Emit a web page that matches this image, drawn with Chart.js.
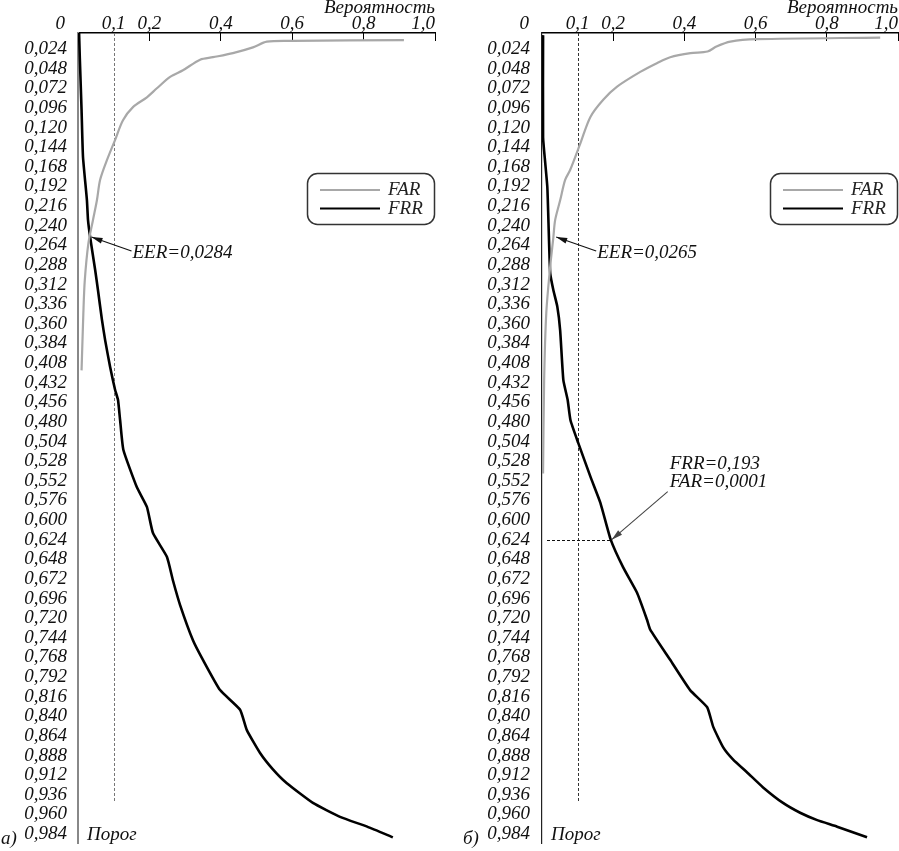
<!DOCTYPE html>
<html>
<head>
<meta charset="utf-8">
<script src="https://cdn.jsdelivr.net/npm/chart.js@4.4.1/dist/chart.umd.min.js"></script>
<style>
  html, body { margin: 0; padding: 0; background: #fff; }
  #wrap { position: relative; width: 899px; height: 851px; overflow: hidden; }
  canvas { position: absolute; top: 0; }
  #chartA { left: 0; }
  #chartB { left: 450px; }
</style>
</head>
<body>
<div id="wrap">
  <canvas id="chartA" width="450" height="851"></canvas>
  <canvas id="chartB" width="449" height="851"></canvas>
</div>
<script>
// ось Y: порог, ось X: вероятность
const thresholdTicks = [0.024, 0.048, 0.072, 0.096, 0.120, 0.144, 0.168, 0.192, 0.216, 0.240,
  0.264, 0.288, 0.312, 0.336, 0.360, 0.384, 0.408, 0.432, 0.456, 0.480, 0.504, 0.528, 0.552,
  0.576, 0.600, 0.624, 0.648, 0.672, 0.696, 0.720, 0.744, 0.768, 0.792, 0.816, 0.840, 0.864,
  0.888, 0.912, 0.936, 0.960, 0.984]
const probTicks = [0, 0.1, 0.2, 0.4, 0.6, 0.8, 1.0]
const seriesNames = ['FAR', 'FRR']

// а)
const farA_thr = [0.013, 0.014, 0.015, 0.022, 0.029, 0.034, 0.037, 0.050, 0.058, 0.072, 0.083,
  0.095, 0.111, 0.135, 0.160, 0.184, 0.209, 0.233, 0.262, 0.307, 0.347, 0.417]
const farA_val = [0.913, 0.602, 0.529, 0.490, 0.434, 0.378, 0.342, 0.294, 0.258, 0.221, 0.193,
  0.154, 0.126, 0.104, 0.081, 0.062, 0.053, 0.042, 0.029, 0.019, 0.015, 0.010]
const frrA_thr = [0.004, 0.034, 0.099, 0.156, 0.209, 0.233, 0.254, 0.294, 0.319, 0.355, 0.380,
  0.413, 0.441, 0.453, 0.478, 0.514, 0.560, 0.584, 0.616, 0.645, 0.674, 0.704, 0.747, 0.771,
  0.808, 0.832, 0.857, 0.885, 0.905, 0.922, 0.946, 0.963, 0.975, 0.988]
const frrA_val = [0.003, 0.005, 0.010, 0.014, 0.025, 0.028, 0.034, 0.048, 0.056, 0.067, 0.076,
  0.090, 0.104, 0.112, 0.118, 0.127, 0.165, 0.193, 0.210, 0.249, 0.266, 0.286, 0.322, 0.350,
  0.398, 0.454, 0.473, 0.510, 0.546, 0.585, 0.658, 0.734, 0.810, 0.882]
const eerA = 0.0284
const eerA_at = [0.035, 0.254]

// б)
const farB_thr = [0.010, 0.012, 0.015, 0.021, 0.027, 0.029, 0.034, 0.041, 0.052, 0.070, 0.086,
  0.107, 0.139, 0.172, 0.184, 0.209, 0.233, 0.254, 0.290, 0.347, 0.429, 0.543]
const farB_val = [0.950, 0.603, 0.529, 0.490, 0.465, 0.417, 0.360, 0.324, 0.276, 0.211, 0.172,
  0.136, 0.108, 0.079, 0.065, 0.051, 0.037, 0.032, 0.023, 0.012, 0.006, 0.003]
const frrB_thr = [0.007, 0.132, 0.163, 0.193, 0.233, 0.298, 0.319, 0.339, 0.368, 0.429, 0.453,
  0.478, 0.506, 0.547, 0.579, 0.624, 0.658, 0.689, 0.722, 0.734, 0.771, 0.808, 0.829, 0.853,
  0.878, 0.893, 0.909, 0.927, 0.946, 0.958, 0.967, 0.975, 0.988]
const frrB_val = [0.003, 0.003, 0.009, 0.015, 0.018, 0.023, 0.032, 0.043, 0.051, 0.060, 0.072,
  0.080, 0.102, 0.136, 0.164, 0.193, 0.228, 0.267, 0.295, 0.304, 0.360, 0.416, 0.464, 0.481,
  0.509, 0.537, 0.577, 0.621, 0.677, 0.725, 0.773, 0.829, 0.913]
const eerB = 0.0265
const eerB_at = [0.037, 0.254]
const workFRR = 0.193, workFAR = 0.0001, workThr = 0.624

const dashEndThr = 0.946

const serif = "'Liberation Serif', 'Times New Roman', serif"
Chart.defaults.font.family = serif
Chart.defaults.font.style = 'italic'
Chart.defaults.font.size = 19
Chart.defaults.color = '#111'

const pts = (xs, ys) => xs.map((v, i) => ({x: v, y: ys[i]}))
const comma = (v, d) => v.toFixed(d).replace('.', ',')

function arrow(ctx, x1, y1, x2, y2) {
  ctx.beginPath(); ctx.moveTo(x1, y1); ctx.lineTo(x2, y2); ctx.stroke()
  const a = Math.atan2(y2 - y1, x2 - x1), L = 11, W = 3
  const c = Math.cos(a), s = Math.sin(a)
  ctx.beginPath()
  ctx.moveTo(x2, y2)
  ctx.lineTo(x2 - L * c + W * s, y2 - L * s - W * c)
  ctx.lineTo(x2 - L * c - W * s, y2 - L * s + W * c)
  ctx.closePath(); ctx.fill()
}

function roundRect(ctx, x, y, w, h, r) {
  ctx.beginPath()
  ctx.moveTo(x + r, y)
  ctx.arcTo(x + w, y, x + w, y + h, r)
  ctx.arcTo(x + w, y + h, x, y + h, r)
  ctx.arcTo(x, y + h, x, y, r)
  ctx.arcTo(x, y, x + w, y, r)
  ctx.closePath()
}

function makeChart(id, p) {
  const decor = {
    id: 'decor',
    beforeDatasetsDraw(chart) {
      const {ctx, chartArea: ca, scales: {x, y}} = chart
      ctx.save()
      ctx.strokeStyle = p.dashColor
      ctx.lineWidth = 1
      ctx.setLineDash([3, 2])
      const dx = Math.round(x.getPixelForValue(0.1)) + 0.5
      ctx.beginPath(); ctx.moveTo(dx, ca.top); ctx.lineTo(dx, y.getPixelForValue(dashEndThr)); ctx.stroke()
      if (p.work) {
        const wy = Math.round(y.getPixelForValue(p.work.thr)) + 0.5
        ctx.strokeStyle = '#111'
        ctx.beginPath(); ctx.moveTo(ca.left + 5, wy); ctx.lineTo(x.getPixelForValue(p.work.frr), wy); ctx.stroke()
      }
      ctx.restore()
    },
    afterDraw(chart) {
      const {ctx, chartArea: ca, scales: {x, y}} = chart
      ctx.save()
      ctx.font = 'italic 19px ' + serif
      ctx.fillStyle = '#111'
      ctx.strokeStyle = '#111'

      // "0" у начала оси вероятности
      ctx.textAlign = 'right'; ctx.textBaseline = 'middle'
      ctx.fillText(comma(probTicks[0], 0), x.getPixelForValue(0) - 13, ca.top - 9)

      ctx.textAlign = 'left'; ctx.textBaseline = 'alphabetic'
      ctx.fillText('Порог', ca.left + 9, ca.bottom - 3)
      ctx.fillText(p.letter, p.letterX, ca.bottom + 1)

      // легенда
      const bx = ca.right - 128, by = 173
      ctx.lineWidth = 1.5
      ctx.strokeStyle = '#333'
      roundRect(ctx, bx + 0.5, by + 0.5, 127, 51, 10)
      ctx.stroke()
      ctx.textBaseline = 'middle'
      chart.data.datasets.forEach((ds, i) => {
        const ly = by + 17 + i * 18.5
        ctx.strokeStyle = ds.borderColor
        ctx.lineWidth = 2.2
        ctx.beginPath(); ctx.moveTo(bx + 13, ly); ctx.lineTo(bx + 73, ly); ctx.stroke()
        ctx.fillStyle = '#222'
        ctx.fillText(ds.label, bx + 81, ly)
      })

      // EER
      ctx.fillStyle = '#111'; ctx.strokeStyle = '#111'; ctx.lineWidth = 1.1
      const ex = x.getPixelForValue(p.eerAt[0]), ey = y.getPixelForValue(p.eerAt[1])
      arrow(ctx, ex + 41, ey + 14, ex + 1, ey)
      ctx.fillText('EER=' + comma(p.eer, 4), ex + 42, ey + 16)

      if (p.work) {
        const wx = x.getPixelForValue(p.work.frr), wy = y.getPixelForValue(p.work.thr)
        ctx.strokeStyle = '#444'; ctx.fillStyle = '#444'
        arrow(ctx, wx + 57, wy - 48, wx + 1, wy)
        ctx.fillStyle = '#111'
        ctx.fillText('FRR=' + comma(p.work.frr, 3), wx + 59, wy - 76)
        ctx.fillText('FAR=' + comma(p.work.far, 4), wx + 59, wy - 58)
      }
      ctx.restore()
    }
  }

  return new Chart(document.getElementById(id), {
    type: 'scatter',
    data: {
      datasets: [
        {label: seriesNames[0], data: pts(p.farVal, p.farThr), showLine: true, tension: 0.3,
          borderColor: '#a8a8a8', borderWidth: 2.2, pointRadius: 0},
        {label: seriesNames[1], data: pts(p.frrVal, p.frrThr), showLine: true, tension: 0.15,
          borderColor: '#000', borderWidth: 2.6, pointRadius: 0}
      ]
    },
    options: {
      responsive: false,
      animation: false,
      layout: {autoPadding: false, padding: {left: 0, right: p.padRight, top: 0, bottom: 8}},
      plugins: {legend: {display: false}, tooltip: {enabled: false}},
      scales: {
        x: {
          type: 'linear', position: 'top', min: 0, max: 1,
          afterFit: s => { s.height = 33; s.paddingLeft = 0; s.paddingRight = 0 },
          afterBuildTicks: s => { s.ticks = probTicks.map(v => ({value: v})) },
          grid: {drawOnChartArea: false, tickLength: -8, lineWidth: 1,
            color: c => (c.tick && c.tick.value >= 0.2) ? '#000' : 'rgba(0,0,0,0)'},
          border: {color: '#000', width: 1.5},
          ticks: {autoSkip: false, maxRotation: 0, align: 'inner', padding: 6,
            callback: v => v === 0 ? '' : comma(v, 1)},
          title: {display: true, text: 'Вероятность', align: 'end', padding: 0,
            font: {lineHeight: 0.8}}
        },
        y: {
          type: 'linear', reverse: true, min: 0.0044, max: 0.995,
          afterFit: s => { s.width = p.axisWidth; s.paddingTop = 0; s.paddingBottom = 0 },
          afterBuildTicks: s => { s.ticks = thresholdTicks.map(v => ({value: v})) },
          grid: {display: false, drawTicks: false},
          border: {color: p.axisColor, width: p.axisLineWidth},
          ticks: {autoSkip: false, padding: p.tickPad, callback: v => comma(v, 3)}
        }
      }
    },
    plugins: [decor]
  })
}

makeChart('chartA', {
  farThr: farA_thr, farVal: farA_val, frrThr: frrA_thr, frrVal: frrA_val,
  eer: eerA, eerAt: eerA_at, letter: 'а)', letterX: 1,
  axisWidth: 78, padRight: 15, tickPad: 11, axisColor: '#888', axisLineWidth: 2,
  dashColor: '#777'
})

makeChart('chartB', {
  farThr: farB_thr, farVal: farB_val, frrThr: frrB_thr, frrVal: frrB_val,
  eer: eerB, eerAt: eerB_at, letter: 'б)', letterX: 13,
  axisWidth: 92, padRight: 1, tickPad: 12, axisColor: '#222', axisLineWidth: 1.2,
  dashColor: '#333',
  work: {frr: workFRR, far: workFAR, thr: workThr}
})
</script>
</body>
</html>
